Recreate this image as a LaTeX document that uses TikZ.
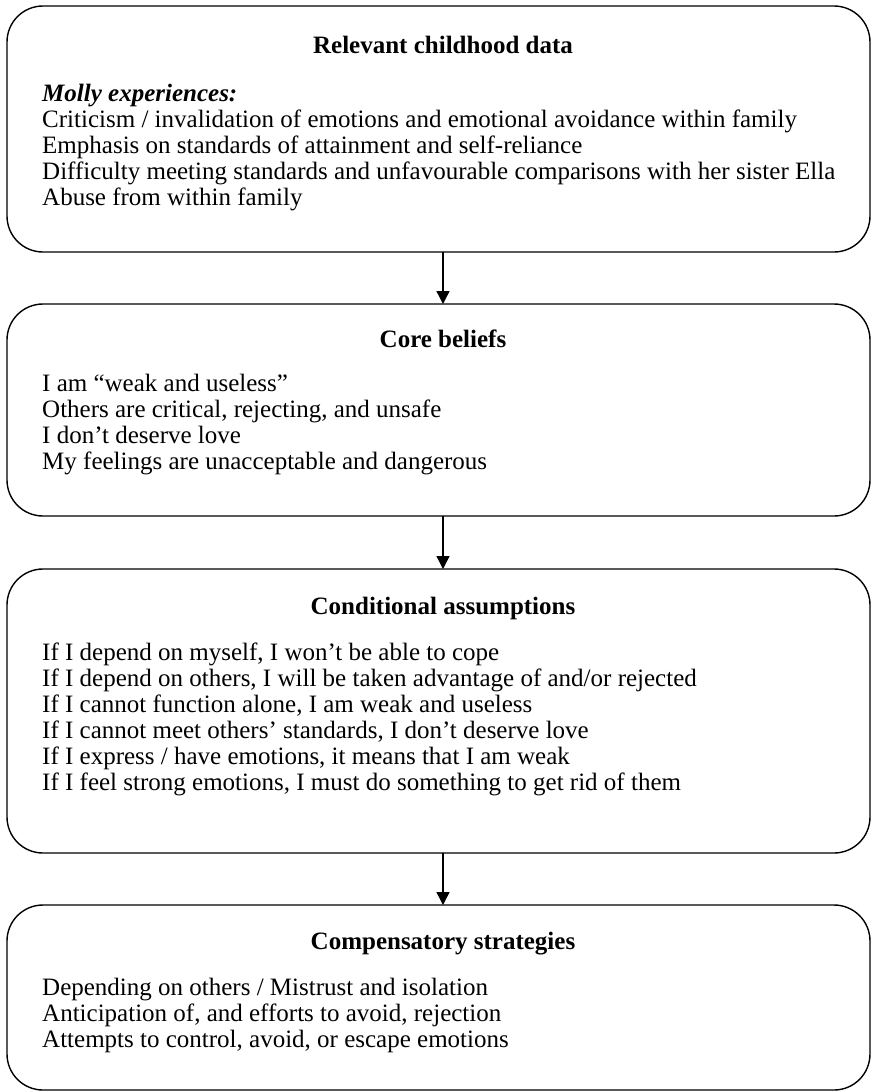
\documentclass[tikz,border=0pt]{standalone}
\usepackage{fontspec}
\setmainfont{Liberation Serif}
\usetikzlibrary{shapes,arrows.meta}
\usetikzlibrary{calc}

\tikzset{
  panel/.style={draw, line width=1.4pt, rounded corners=36pt, inner sep=0pt, outer sep=0pt},
  head/.style={anchor=base, inner sep=0pt, font=\fontsize{25}{26}\selectfont\bfseries},
  item/.style={anchor=base west, inner sep=0pt, font=\fontsize{25}{26}\selectfont},
  link/.style={line width=1.4pt, -{Triangle[length=13pt,width=13pt]}}
}

\begin{document}
\begin{tikzpicture}[x=1pt,y=-1pt]
\useasboundingbox (0,0) rectangle (871,1092);

% panels
\node[panel, minimum width=863pt, minimum height=246pt] (P1) at (438.5,129) {};
\node[panel, minimum width=863pt, minimum height=212pt] (P2) at (438.5,410) {};
\node[panel, minimum width=863pt, minimum height=284pt] (P3) at (438.5,711) {};
\node[panel, minimum width=863pt, minimum height=185pt] (P4) at (438.5,997.5) {};

% childhood data
\node[head] (h1) at (443,53) {Relevant childhood data};
\node[item] (a0) at (42,101) {\textbf{\textit{Molly experiences:}}};
\node[item] (a1) at (42,127) {Criticism / invalidation of emotions and emotional avoidance within family};
\node[item] (a2) at (42,153) {Emphasis on standards of attainment and self-reliance};
\node[item] (a3) at (42,179) {Difficulty meeting standards and unfavourable comparisons with her sister Ella};
\node[item] (a4) at (42,205) {Abuse from within family};

% core beliefs
\node[head] (h2) at (443,347) {Core beliefs};
\node[item] (b1) at (42,391) {I am “weak and useless”};
\node[item] (b2) at (42,417) {Others are critical, rejecting, and unsafe};
\node[item] (b3) at (42,443) {I don’t deserve love};
\node[item] (b4) at (42,469) {My feelings are unacceptable and dangerous};

% assumptions
\node[head] (h3) at (443,614) {Conditional assumptions};
\node[item] (c1) at (42,660) {If I depend on myself, I won’t be able to cope};
\node[item] (c2) at (42,686) {If I depend on others, I will be taken advantage of and/or rejected};
\node[item] (c3) at (42,712) {If I cannot function alone, I am weak and useless};
\node[item] (c4) at (42,738) {If I cannot meet others’ standards, I don’t deserve love};
\node[item] (c5) at (42,764) {If I express / have emotions, it means that I am weak};
\node[item] (c6) at (42,790) {If I feel strong emotions, I must do something to get rid of them};

% strategies
\node[head] (h4) at (443,949) {Compensatory strategies};
\node[item] (d1) at (42,995) {Depending on others / Mistrust and isolation};
\node[item] (d2) at (42,1021) {Anticipation of, and efforts to avoid, rejection};
\node[item] (d3) at (42,1047) {Attempts to control, avoid, or escape emotions};

\draw[link] ($(P1.south)+(4.5,0)$) -- ($(P2.north)+(4.5,0)$);
\draw[link] ($(P2.south)+(4.5,0)$) -- ($(P3.north)+(4.5,0)$);
\draw[link] ($(P3.south)+(4.5,0)$) -- ($(P4.north)+(4.5,0)$);

\end{tikzpicture}
\end{document}
